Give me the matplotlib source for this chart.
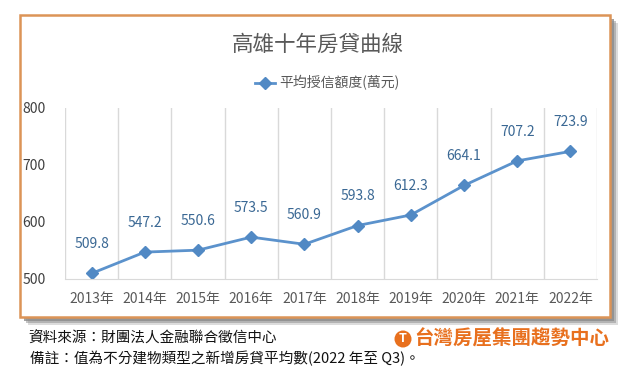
import matplotlib.pyplot as plt
import matplotlib.patches as mpatches
import numpy as np

plt.rcParams['font.family'] = ['Noto Sans CJK TC', 'DejaVu Sans']

years = ['2013年', '2014年', '2015年', '2016年', '2017年',
         '2018年', '2019年', '2020年', '2021年', '2022年']
loan = [509.8, 547.2, 550.6, 573.5, 560.9, 593.8, 612.3, 664.1, 707.2, 723.9]
yticks = [500, 600, 700, 800]

W, H = 631, 377
fig = plt.figure(figsize=(W / 100, H / 100), dpi=100)
fig.patch.set_facecolor('white')


def px(x, y):
    # pixel coords (top-left origin) -> figure fraction
    return x / W, 1 - y / H


# shadow + orange frame
for off, a in [(8, 0.3), (6, 0.5), (4, 0.8)]:
    x0, y0 = px(20 + off, 317 + off)
    sh = mpatches.Rectangle((x0, y0), 590 / W, 302 / H, transform=fig.transFigure,
                            facecolor='#8c8c8c', edgecolor='none', alpha=a, zorder=0)
    fig.patches.append(sh)
x0, y0 = px(20, 317)
frame = mpatches.Rectangle((x0, y0), 590 / W, 302 / H, transform=fig.transFigure,
                           facecolor='white', edgecolor='#dc9457', linewidth=1.8, zorder=1)
fig.patches.append(frame)

l, b = px(65, 279)
ax = fig.add_axes([l, b, 532 / W, 171 / H])
ax.set_facecolor('none')
ax.set_zorder(2)

x = np.arange(len(years))
ax.plot(x, loan, color='#5b92cc', linewidth=2, marker='D', markersize=6,
        markerfacecolor='#5189c4', markeredgecolor='#5189c4')
for xi, v in zip(x, loan):
    ax.annotate(f'{v:.1f}', (xi, v), xytext=(0, 16), textcoords='offset points',
                ha='center', va='bottom', fontsize=10, color='#3a6894')

ax.set_xlim(-0.5, len(years) - 0.5)
ax.set_ylim(500, 800)
ax.set_xticks(x)
ax.set_xticklabels(years, fontsize=10, color='#595959')
ax.set_xticks(np.arange(-0.5, len(years)), minor=True)
ax.set_yticks(yticks)
ax.set_yticklabels([str(t) for t in yticks], fontsize=10, color='#404040')
ax.tick_params(axis='both', which='both', length=0)
ax.tick_params(axis='x', pad=9)
ax.tick_params(axis='y', pad=14)
ax.grid(which='minor', axis='x', color='#d9d9d9', linewidth=1)
for s in ['top', 'right', 'left']:
    ax.spines[s].set_visible(False)
ax.spines['bottom'].set_color('#d9d9d9')

# title and legend
fig.text(*px(318, 45), '高雄十年房貸曲線', ha='center', va='center',
         fontsize=15.5, color='#595959')
lx, ly = px(255, 83)
lx2, _ = px(275, 83)
fig.add_artist(plt.Line2D([lx, lx2], [ly, ly], transform=fig.transFigure,
                          color='#5b92cc', linewidth=2))
fig.add_artist(plt.Line2D([(lx + lx2) / 2], [ly], transform=fig.transFigure,
                          marker='D', markersize=6, color='#5189c4'))
fig.text(*px(279, 83), '平均授信額度(萬元)', ha='left', va='center',
         fontsize=10, color='#595959')

# footer
fig.text(*px(28, 339), '資料來源：財團法人金融聯合徵信中心', ha='left', va='center',
         fontsize=10.5, color='#111111')
fig.text(*px(30, 358), '備註：值為不分建物類型之新增房貸平均數(2022 年至 Q3)。',
         ha='left', va='center', fontsize=10.5, color='#111111')

# logo
cx, cy = px(403, 339)
fig.patches.append(mpatches.Ellipse((cx, cy), 17 / W, 17 / H, transform=fig.transFigure,
                                    facecolor='#e8701e', edgecolor='none', zorder=3))
fig.text(cx, cy, 'T', ha='center', va='center', fontsize=9, fontweight='bold',
         color='white', zorder=4)
fig.text(*px(414, 339), '台灣房屋集團趨勢中心', ha='left', va='center',
         fontsize=14, fontweight='bold', color='#e8701e')

fig.savefig('out.png', dpi=100)
